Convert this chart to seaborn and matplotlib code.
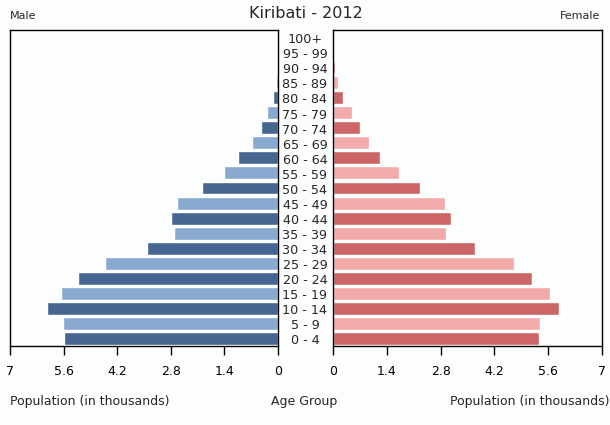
import numpy as np
import pandas as pd
import matplotlib
matplotlib.use("Agg")
import matplotlib.pyplot as plt
import seaborn as sns

# ~~~~~~~~~~~~~~~~~~~~~~~~~~~~~~~~~~~~~~~~~~~~~~~~~~~~~~~~~~~~~~~~~~~~~~
# Kiribati 2012 population pyramid, values in thousands
age_groups = ["0 - 4", "5 - 9", "10 - 14", "15 - 19", "20 - 24", "25 - 29",
              "30 - 34", "35 - 39", "40 - 44", "45 - 49", "50 - 54", "55 - 59",
              "60 - 64", "65 - 69", "70 - 74", "75 - 79", "80 - 84", "85 - 89",
              "90 - 94", "95 - 99", "100+"]
male = [5.59, 5.61, 6.03, 5.67, 5.22, 4.52, 3.42, 2.72, 2.79, 2.64, 1.98,
        1.41, 1.04, 0.68, 0.44, 0.29, 0.13, 0.05, 0.03, 0.01, 0.0]
female = [5.36, 5.39, 5.88, 5.65, 5.18, 4.71, 3.70, 2.94, 3.07, 2.91, 2.26,
          1.72, 1.22, 0.94, 0.70, 0.49, 0.26, 0.13, 0.05, 0.01, 0.0]
tick_vals = [0, 1.4, 2.8, 4.2, 5.6, 7]
tick_labels = ["0", "1.4", "2.8", "4.2", "5.6", "7"]

male_colors = ["#456690", "#88aad0"]
female_colors = ["#cc6666", "#f2aaaa"]
# ~~~~~~~~~~~~~~~~~~~~~~~~~~~~~~~~~~~~~~~~~~~~~~~~~~~~~~~~~~~~~~~~~~~~~~

df = pd.DataFrame({"age": age_groups, "male": male, "female": female})
order = age_groups[::-1]  # 100+ on top
m_pal = {a: male_colors[i % 2] for i, a in enumerate(age_groups)}
f_pal = {a: female_colors[i % 2] for i, a in enumerate(age_groups)}

sns.set_style("white")
plt.rcParams["font.family"] = ["DejaVu Sans"]

fig = plt.figure(figsize=(6.1, 4.25), dpi=100)
fig.patch.set_facecolor("#fcfdfd")
ax_m = fig.add_axes([10 / 610, 1 - 346 / 425, 268 / 610, 316 / 425])
ax_f = fig.add_axes([333 / 610, 1 - 346 / 425, 269 / 610, 316 / 425])

sns.barplot(data=df, x="male", y="age", hue="age", order=order, hue_order=order,
            palette=m_pal, orient="h", width=0.86, legend=False, ax=ax_m,
            saturation=1)
sns.barplot(data=df, x="female", y="age", hue="age", order=order, hue_order=order,
            palette=f_pal, orient="h", width=0.86, legend=False, ax=ax_f,
            saturation=1)

ax_m.set_xlim(7, 0)
ax_f.set_xlim(0, 7)
for ax in (ax_m, ax_f):
    ax.set_facecolor("#fcfdfd")
    ax.set_ylim(len(order) - 0.5, -0.5)
    ax.set_xticks(tick_vals)
    ax.set_xticklabels(tick_labels, fontsize=9)
    ax.set_yticks([])
    ax.set_xlabel("")
    ax.set_ylabel("")
    ax.tick_params(axis="x", direction="out", length=6.5, width=1, pad=7,
                   bottom=True, colors="black")
    for s in ax.spines.values():
        s.set_color("black")
        s.set_linewidth(1)

# age group labels in the middle
for i, a in enumerate(order):
    ax_f.text(-28 / 38.4, i + 0.15, a, ha="center", va="center", fontsize=9.2)

fig.text(306 / 610, 1 - 14 / 425, "Kiribati - 2012", ha="center", va="center",
         fontsize=11.5)
fig.text(10 / 610, 1 - 16 / 425, "Male", ha="left", va="center", fontsize=8)
fig.text(600 / 610, 1 - 16 / 425, "Female", ha="right", va="center", fontsize=8)
fig.text(10 / 610, 1 - 401 / 425, "Population (in thousands)", ha="left",
         va="center", fontsize=9)
fig.text(304 / 610, 1 - 401 / 425, "Age Group", ha="center", va="center",
         fontsize=9)
fig.text(609 / 610, 1 - 401 / 425, "Population (in thousands)", ha="right",
         va="center", fontsize=9)

fig.savefig("out.png", dpi=100, facecolor=fig.get_facecolor())
